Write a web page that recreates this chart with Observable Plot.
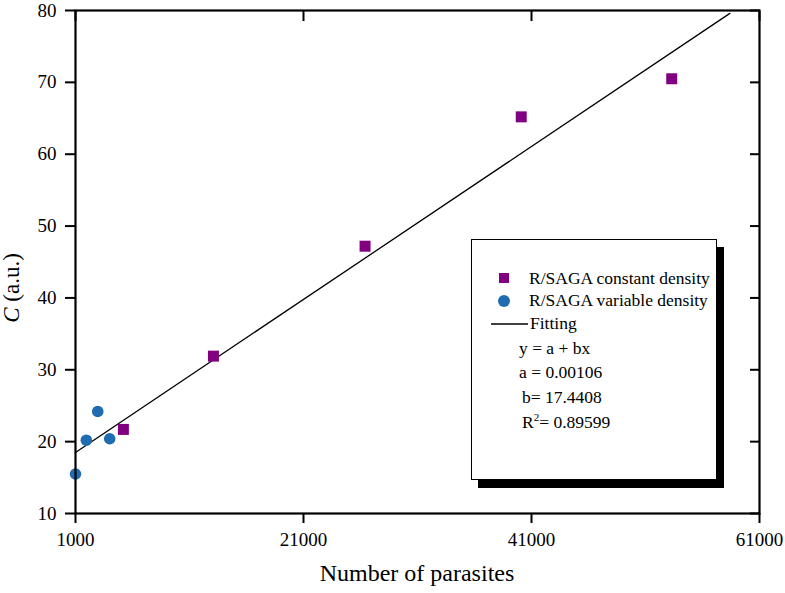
<!DOCTYPE html>
<html><head><meta charset="utf-8">
<script src="https://cdn.jsdelivr.net/npm/d3@7"></script>
<script src="https://cdn.jsdelivr.net/npm/@observablehq/plot@0.6"></script>
<style>
body{margin:0;background:#fff;}
#wrap{position:relative;width:785px;height:593px;font-family:'Liberation Serif','Tinos','DejaVu Serif',serif;}
#wrap svg, #wrap svg text{font-family:'Liberation Serif','Tinos','DejaVu Serif',serif !important;}
#legend{position:absolute;left:471px;top:239px;width:244px;height:239px;border:1.5px solid #000;background:#fff;box-shadow:7px 8px 0 #000;}
</style></head><body><div id="wrap"></div>
<script>
// ---- data ----
const xTicks = [1000, 21000, 41000, 61000];
const yTicks = [10, 20, 30, 40, 50, 60, 70, 80];
const constX = [5200, 13100, 26400, 40100, 53300];
const constY = [21.7, 31.9, 47.2, 65.2, 70.5];
const varX = [1000, 1950, 2950, 4000];
const varY = [15.5, 20.2, 24.2, 20.4];
const fitX = [1000, 58400];
const fitY = [18.5, 79.6];
const seriesNames = ["R/SAGA constant density", "R/SAGA variable density", "Fitting"];
const seriesColors = ["#800080", "#1f6db0", "#000000"];
const eqLines = ["y = a + bx", "a = 0.00106", "b= 17.4408"];
const r2Text = ["R", "2", "= 0.89599"];
const xTitle = "Number of parasites";

const constData = constX.map((x, i) => ({x, y: constY[i]}));
const varData = varX.map((x, i) => ({x, y: varY[i]}));
const fitData = fitX.map((x, i) => ({x, y: fitY[i]}));

const W = 785, H = 593, mL = 75, mR = 26, mT = 10, mB = 80;
const FONT = "'Liberation Serif','Tinos','DejaVu Serif',serif";

const chart = Plot.plot({
  width: W, height: H,
  marginLeft: mL, marginRight: mR, marginTop: mT, marginBottom: mB,
  style: {fontFamily: FONT, fontSize: "19px", color: "#000", background: "#fff"},
  x: {domain: [1000, 61000]},
  y: {domain: [10, 80]},
  marks: [
    Plot.line(fitData, {x: "x", y: "y", stroke: seriesColors[2], strokeWidth: 1.3}),
    Plot.dot(constData, {x: "x", y: "y", symbol: "square", r: 6.2, fill: seriesColors[0], stroke: null}),
    Plot.dot(varData, {x: "x", y: "y", symbol: "circle", r: 5.8, fill: seriesColors[1], stroke: null}),
    Plot.axisX(xTicks, {anchor: "bottom", tickSize: 10, tickPadding: 9, strokeWidth: 2, label: null, fontSize: 19, tickFormat: d => String(d)}),
    Plot.axisX(xTicks, {anchor: "top", tickSize: -10, strokeWidth: 2, label: null, tickFormat: () => ""}),
    Plot.axisY(yTicks, {anchor: "left", tickSize: 10, tickPadding: 9, strokeWidth: 2, label: null, fontSize: 19, tickFormat: d => String(d)}),
    Plot.axisY(yTicks, {anchor: "right", tickSize: -10, strokeWidth: 2, label: null, tickFormat: () => ""}),
    Plot.frame({stroke: "#000", strokeWidth: 2.2})
  ]
});
const wrap = document.getElementById("wrap");
wrap.appendChild(chart);

const svg = d3.select(chart);
svg.selectAll("text").attr("fill", "#000");
// axis titles
svg.append("text")
  .attr("x", (mL + W - mR) / 2).attr("y", 581)
  .attr("text-anchor", "middle").attr("font-size", 24).attr("fill", "#000")
  .text(xTitle);
const yt = svg.append("text")
  .attr("transform", "translate(19,288) rotate(-90)")
  .attr("text-anchor", "middle").attr("font-size", 23).attr("fill", "#000");
yt.append("tspan").attr("font-style", "italic").text("C");
yt.append("tspan").text(" (a.u.)");

// legend
const leg = document.createElement("div");
leg.id = "legend";
wrap.appendChild(leg);
const ls = d3.select(leg).append("svg").attr("width", 244).attr("height", 239)
  .style("font-size", "17.5px");
const ox = 471, oy = 239;
ls.append("rect").attr("x", 498 - ox).attr("y", 272 - oy).attr("width", 10).attr("height", 10).attr("fill", seriesColors[0]);
ls.append("circle").attr("cx", 503 - ox).attr("cy", 300 - oy).attr("r", 6).attr("fill", seriesColors[1]);
ls.append("line").attr("x1", 490 - ox).attr("x2", 527 - ox).attr("y1", 323 - oy).attr("y2", 323 - oy).attr("stroke", "#000").attr("stroke-width", 1.3);
const rowY = [283, 305, 328];
const rowX = [528, 528, 529];
seriesNames.forEach((s, i) => {
  ls.append("text").attr("x", rowX[i] - ox).attr("y", rowY[i] - oy).attr("fill", "#000").text(s);
});
const eqY = [353, 377, 402];
const eqX = [518, 518, 521];
eqLines.forEach((s, i) => {
  ls.append("text").attr("x", eqX[i] - ox).attr("y", eqY[i] - oy).attr("fill", "#000").text(s);
});
const r2 = ls.append("text").attr("x", 521 - ox).attr("y", 427 - oy).attr("fill", "#000");
r2.append("tspan").text(r2Text[0]);
r2.append("tspan").attr("font-size", "11px").attr("dy", -7).text(r2Text[1]);
r2.append("tspan").attr("dy", 7).text(r2Text[2]);
</script>
</body></html>
